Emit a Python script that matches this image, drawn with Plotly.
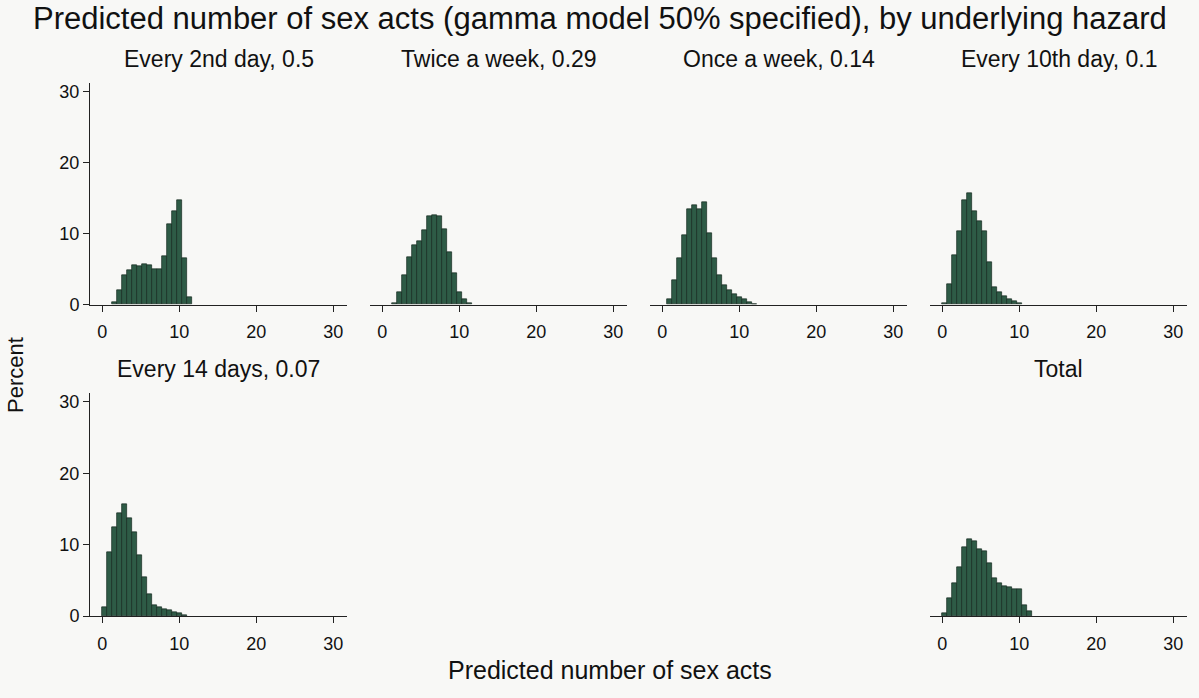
import plotly.graph_objects as go

# ---------------- data ----------------
BIN_WIDTH = 0.65
panel_titles = ["Every 2nd day, 0.5", "Twice a week, 0.29", "Once a week, 0.14",
                "Every 10th day, 0.1", "Every 14 days, 0.07", "Total"]
first_bin_start = [1.3, 1.3, 0.65, 0.0, 0.0, 0.0]

pct_every_2nd_day = [0.4, 2.0, 4.1, 4.9, 5.5, 5.4, 5.7, 5.6, 5.0, 5.0, 6.8, 11.4, 13.1, 14.7, 6.6, 1.0]
pct_twice_week = [0.2, 1.7, 4.1, 6.7, 8.4, 9.0, 10.5, 12.4, 12.6, 12.4, 10.6, 7.4, 4.4, 1.8, 0.7, 0.2]
pct_once_week = [0.7, 3.4, 6.6, 9.8, 13.4, 14.0, 13.4, 14.4, 10.0, 6.5, 4.2, 2.8, 2.0, 1.5, 1.1, 0.7, 0.3, 0.1]
pct_every_10th = [0.2, 2.9, 6.9, 10.3, 14.7, 15.7, 13.2, 11.7, 10.3, 6.0, 2.4, 1.7, 1.2, 0.8, 0.5, 0.2]
pct_every_14 = [1.2, 8.9, 12.4, 14.4, 15.6, 13.7, 11.7, 8.5, 5.5, 3.0, 1.5, 1.2, 1.0, 0.8, 0.6, 0.45, 0.2]
pct_total = [0.35, 2.5, 4.6, 6.9, 9.6, 10.8, 10.5, 9.4, 9.1, 7.4, 5.3, 4.6, 4.2, 4.0, 3.7, 3.7, 1.6, 0.7]

x_ticks = [0, 10, 20, 30]
y_ticks = [0, 10, 20, 30]

main_title = "Predicted number of sex acts (gamma model 50% specified), by underlying hazard"
x_title = "Predicted number of sex acts"
y_title = "Percent"

series = [pct_every_2nd_day, pct_twice_week, pct_once_week, pct_every_10th, pct_every_14, pct_total]

# ---------------- layout geometry ----------------
W, H = 1199, 698
FONT = "Liberation Sans, Arial, sans-serif"
BG = "#f8f8f6"
BAR_FILL = "#2e5b46"
BAR_LINE = "#15281f"
AXIS_COL = "#222222"

col_left = [90, 370, 650, 930]
panel_w = 257
rows = [(83.5, 308.5), (398.5, 625.0)]
grid_pos = [(0, 0), (0, 1), (0, 2), (0, 3), (1, 0), (1, 3)]
X_RANGE = [-1.6, 31.8]
Y_RANGE = [0, 31.2]

fig = go.Figure()
annotations = []

for i, (vals, title, start, (r, c)) in enumerate(zip(series, panel_titles, first_bin_start, grid_pos)):
    idx = "" if i == 0 else str(i + 1)
    centers = [start + BIN_WIDTH * (k + 0.5) for k in range(len(vals))]
    fig.add_trace(go.Bar(
        x=centers, y=vals, width=BIN_WIDTH,
        marker=dict(color=BAR_FILL, line=dict(color=BAR_LINE, width=0.7)),
        xaxis="x" + idx, yaxis="y" + idx, showlegend=False,
        hovertemplate="%{x:.2f}: %{y}%<extra></extra>",
    ))
    l = col_left[c]
    top, bot = rows[r]
    xd = [l / W, (l + panel_w) / W]
    yd = [1 - bot / H, 1 - top / H]
    fig.layout["xaxis" + idx] = dict(
        domain=xd, range=X_RANGE, anchor="y" + idx,
        showline=True, linecolor=AXIS_COL, linewidth=1,
        ticks="outside", ticklen=6, tickcolor=AXIS_COL, tickwidth=1,
        tickvals=x_ticks, showgrid=False, zeroline=False, ticklabelstandoff=5,
        tickfont=dict(family=FONT, size=18, color="#111"),
    )
    fig.layout["yaxis" + idx] = dict(
        domain=yd, range=Y_RANGE, anchor="x" + idx,
        showline=(c == 0), linecolor=AXIS_COL, linewidth=1,
        ticks="outside" if c == 0 else "", ticklen=6, tickcolor=AXIS_COL, tickwidth=1,
        tickvals=y_ticks, showticklabels=(c == 0), showgrid=False, zeroline=False,
        tickfont=dict(family=FONT, size=18, color="#111"),
    )
    annotations.append(dict(
        text=title, x=(l + panel_w / 2) / W, y=1 - (top - 25) / H,
        xref="paper", yref="paper", xanchor="center", yanchor="middle",
        showarrow=False, font=dict(family=FONT, size=23, color="#111"),
    ))

annotations.append(dict(text=main_title, x=600 / W, y=1 - 18 / H, xref="paper", yref="paper",
                        xanchor="center", yanchor="middle", showarrow=False,
                        font=dict(family=FONT, size=31, color="#111")))
annotations.append(dict(text=x_title, x=610 / W, y=1 - 680 / H, xref="paper", yref="paper",
                        xanchor="center", yanchor="middle", showarrow=False,
                        font=dict(family=FONT, size=25, color="#111")))
annotations.append(dict(text=y_title, x=15 / W, y=1 - 380 / H, xref="paper", yref="paper",
                        xanchor="center", yanchor="middle", showarrow=False, textangle=-90,
                        font=dict(family=FONT, size=22, color="#111")))

fig.update_layout(
    width=W, height=H, margin=dict(l=0, r=0, t=0, b=0),
    paper_bgcolor=BG, plot_bgcolor=BG, bargap=0,
    annotations=annotations,
)

fig.write_html("out.html")
